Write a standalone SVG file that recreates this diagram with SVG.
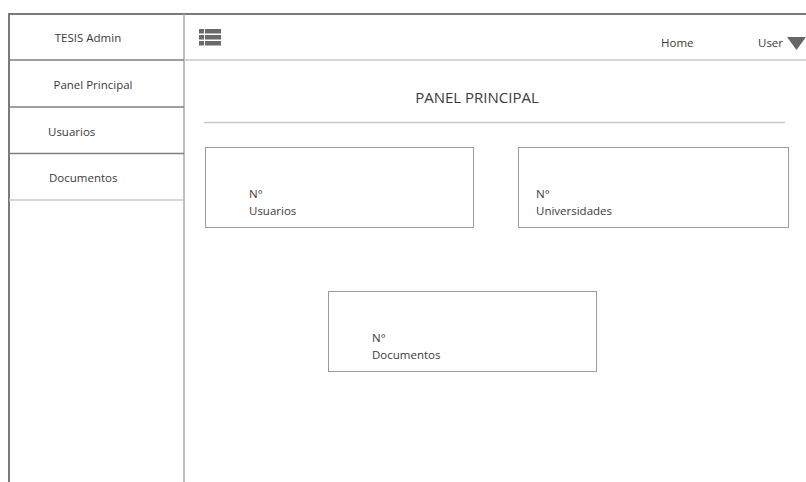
<svg xmlns="http://www.w3.org/2000/svg" width="806" height="482" viewBox="0 0 806 482">
  <style>
    text { font-family: "Open Sans", "Noto Sans", "DejaVu Sans", sans-serif; fill: #3a3a3a; font-size: 11.5px; }
    .frame { stroke: #7a7a7a; stroke-width: 2; fill: none; }
    .sep { stroke: #7f7f7f; stroke-width: 1.5; fill: none; }
    .light { stroke: #c8c8c8; stroke-width: 1.5; fill: none; }
    .card { fill: #fff; stroke: #9a9a9a; stroke-width: 1; }
    .title { font-size: 15px; }
  </style>
  <rect width="806" height="482" fill="#fff"/>

  <!-- outer frame -->
  <g id="frame">
    <line class="frame" x1="8" y1="14" x2="806" y2="14"/>
    <line class="frame" x1="9" y1="13" x2="9" y2="482"/>
    <line x1="184" y1="14" x2="184" y2="482" stroke="#a8a8a8" stroke-width="1.5"/>
    <line class="light" x1="184" y1="60" x2="806" y2="60"/>
  </g>

  <!-- sidebar menu -->
  <g id="sidebar">
    <line class="sep" x1="9" y1="60" x2="184" y2="60"/>
    <line class="sep" x1="9" y1="107" x2="184" y2="107"/>
    <line class="sep" x1="9" y1="153.5" x2="184" y2="153.5"/>
    <line class="light" x1="9" y1="200" x2="184" y2="200"/>
    <text x="88" y="42" text-anchor="middle">TESIS Admin</text>
    <text x="93" y="89" text-anchor="middle">Panel Principal</text>
    <text x="48" y="136">Usuarios</text>
    <text x="49" y="182">Documentos</text>
  </g>

  <!-- top bar -->
  <g id="topbar">
    <g id="menu-icon" fill="#6a6a6a">
      <rect x="199" y="29" width="5" height="4.5"/>
      <rect x="205" y="29" width="16" height="4.5"/>
      <rect x="199" y="35" width="5" height="4.5"/>
      <rect x="205" y="35" width="16" height="4.5"/>
      <rect x="199" y="41" width="5" height="4.5"/>
      <rect x="205" y="41" width="16" height="4.5"/>
    </g>
    <text x="661" y="47">Home</text>
    <text x="758" y="47">User</text>
    <polygon points="787,37 806,37 796.5,50" fill="#666"/>
  </g>

  <!-- page heading -->
  <g id="heading">
    <text class="title" x="477" y="103" text-anchor="middle">PANEL PRINCIPAL</text>
    <line class="light" x1="204" y1="122.5" x2="785" y2="122.5"/>
  </g>

  <!-- statistic cards -->
  <g id="card-usuarios">
    <rect class="card" x="205.5" y="147.5" width="268" height="80"/>
    <text x="249" y="198">N°</text>
    <text x="249" y="215">Usuarios</text>
  </g>
  <g id="card-universidades">
    <rect class="card" x="518.5" y="147.5" width="270" height="80"/>
    <text x="536" y="198">N°</text>
    <text x="536" y="215">Universidades</text>
  </g>
  <g id="card-documentos">
    <rect class="card" x="328.5" y="291.5" width="268" height="80"/>
    <text x="372" y="342">N°</text>
    <text x="372" y="359">Documentos</text>
  </g>
</svg>
